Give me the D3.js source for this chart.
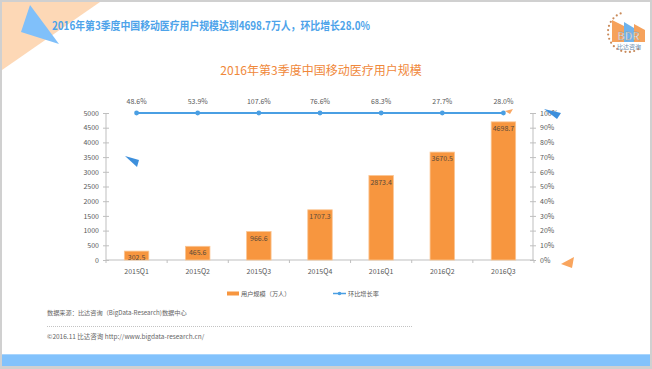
<!DOCTYPE html>
<html><head><meta charset="utf-8">
<script src="https://cdn.jsdelivr.net/npm/d3@7/dist/d3.min.js"></script>
<style>
html,body{margin:0;padding:0;background:#fff;}
svg{display:block;}
text{font-family:"Noto Sans CJK SC","Noto Sans",sans-serif;}
</style></head>
<body>
<svg id="c" width="652" height="369"></svg>
<script>
const categories = ["2015Q1","2015Q2","2015Q3","2015Q4","2016Q1","2016Q2","2016Q3"];
const users = [302.5, 465.6, 966.6, 1707.3, 2873.4, 3670.5, 4698.7];
// growth rate values as entered in the source sheet (percent units), axis capped at 100%
const growth = [48.6, 53.9, 107.6, 76.6, 68.3, 27.7, 28.0];
const leftTicks = [0,500,1000,1500,2000,2500,3000,3500,4000,4500,5000];
const rightTicks = [0,0.1,0.2,0.3,0.4,0.5,0.6,0.7,0.8,0.9,1.0];
const headline = "2016年第3季度中国移动医疗用户规模达到4698.7万人，环比增长28.0%";
const chartTitle = "2016年第3季度中国移动医疗用户规模";
const legendNames = ["用户规模（万人）","环比增长率"];
const sourceText = "数据来源：比达咨询（BigData-Research)数据中心";
const copyText = "©2016.11  比达咨询   http://www.bigdata-research.cn/";

const svg = d3.select("#c");
const W = 652, H = 369;

// frame
svg.append("rect").attr("x",0).attr("y",0).attr("width",W).attr("height",H).attr("fill","#d0d0d0");
svg.append("rect").attr("x",2).attr("y",2).attr("width",648).attr("height",364).attr("fill","#fff");
// top-left decoration
svg.append("path").attr("d","M2,2 L100,2 L2,70 Z").attr("fill","#fdd8b6");
svg.append("path").attr("d","M30,5 L21,32 L59,44 Z").attr("fill","#80c0fa");
// bottom band
svg.append("rect").attr("x",2).attr("y",354).attr("width",648).attr("height",12).attr("fill","#82c2fc");
svg.append("rect").attr("x",2).attr("y",354).attr("width",648).attr("height",1).attr("fill","#a9d5fd");

// headline
svg.append("text").attr("x",52).attr("y",30).attr("font-size",11.5).attr("font-weight","bold")
  .attr("fill","#4da3ea").attr("textLength",318).attr("lengthAdjust","spacingAndGlyphs").text(headline);

// logo
const logo = svg.append("g");
const cx=628, cy=32, rr=20;
for(let i=0;i<16;i++){
  const a = Math.PI*0.62 + i*(Math.PI*1.05/15);
  logo.append("circle").attr("cx",cx+rr*Math.cos(a)).attr("cy",cy-rr*Math.sin(a)+ (0)).attr("r",1.1).attr("fill","#c98a5a");
}
logo.append("path").attr("d","M612,42 L612,20 L624,26 L624,42 Z").attr("fill","#f6a25c");
logo.append("path").attr("d","M624,42 L624,22 L634,28 L634,42 Z").attr("fill","#6fb3ec");
logo.append("path").attr("d","M634,42 L634,24 L645,30 L645,42 Z").attr("fill","#f6a25c");
logo.append("text").attr("x",628.5).attr("y",40).attr("text-anchor","middle").attr("font-size",11)
  .attr("font-family","DejaVu Sans, sans-serif").attr("fill","#fff").attr("stroke","#8a8a8a").attr("stroke-width",0.3).text("BDR");
logo.append("text").attr("x",629).attr("y",49).attr("text-anchor","middle").attr("font-size",6)
  .attr("fill","#6d8fb0").text("比达咨询");

// chart title
svg.append("text").attr("x",321).attr("y",75).attr("text-anchor","middle").attr("font-size",12)
  .attr("fill","#f0883a").text(chartTitle);

// scales
const x = d3.scaleBand().domain(categories).range([106,534]).paddingInner(0.6).paddingOuter(0.3);
const y = d3.scaleLinear().domain([0,5000]).range([260,113]);
const yr = d3.scaleLinear().domain([0,1]).range([260,113]).clamp(true);
const step = x.step(), bw = x.bandwidth();

const axisColor = "#bfbfbf", textColor = "#595959";

// left axis
const gl = svg.append("g").attr("transform","translate(106,0)")
  .call(d3.axisLeft(y).tickValues(leftTicks).tickSize(3).tickPadding(4).tickFormat(d3.format("d")));
gl.select(".domain").attr("stroke",axisColor).attr("d","M0,260V113");
gl.selectAll(".tick line").attr("stroke",axisColor).attr("x1",3);
gl.selectAll("text").attr("font-size",7).attr("fill",textColor).attr("font-family","Noto Sans, sans-serif");

// right axis
const gr = svg.append("g").attr("transform","translate(533,0)")
  .call(d3.axisRight(yr).tickValues(rightTicks).tickSize(3).tickPadding(4).tickFormat(d3.format(".0%")));
gr.select(".domain").attr("stroke",axisColor).attr("d","M0,260V113");
gr.selectAll(".tick line").attr("stroke",axisColor).attr("x1",-3);
gr.selectAll("text").attr("font-size",7).attr("fill",textColor).attr("font-family","Noto Sans, sans-serif");

// x axis
const gx = svg.append("g").attr("transform","translate(0,260)");
gx.append("line").attr("x1",106).attr("x2",534).attr("stroke",axisColor);
const bounds = categories.map(c => x(c)+bw/2-step/2).concat([x(categories[6])+bw/2+step/2]);
gx.selectAll("line.tk").data(bounds).enter().append("line").attr("class","tk")
  .attr("x1",d=>d).attr("x2",d=>d).attr("y1",0).attr("y2",3).attr("stroke",axisColor);
gx.selectAll("text").data(categories).enter().append("text")
  .attr("x",d=>x(d)+bw/2).attr("y",14).attr("text-anchor","middle").attr("font-size",7)
  .attr("font-family","Noto Sans, sans-serif").attr("fill",textColor).text(d=>d);

// bars
svg.selectAll("rect.bar").data(users).enter().append("rect").attr("class","bar")
  .attr("x",(d,i)=>x(categories[i])).attr("width",bw)
  .attr("y",d=>y(d)).attr("height",d=>260-y(d))
  .attr("fill","#f7963f").attr("stroke","#fbc592").attr("stroke-width",0.8);
svg.selectAll("text.bl").data(users).enter().append("text").attr("class","bl")
  .attr("x",(d,i)=>x(categories[i])+bw/2).attr("y",d=>y(d)+9).attr("text-anchor","middle")
  .attr("font-size",7).attr("font-family","Noto Sans, sans-serif").attr("fill","#5a4a3a").text(d=>d.toFixed(1));

// line
const lineColor = "#4a9fe3";
const line = d3.line().x((d,i)=>x(categories[i])+bw/2).y(d=>yr(d));
svg.append("path").datum(growth).attr("d",line).attr("fill","none").attr("stroke",lineColor).attr("stroke-width",1.8);
svg.selectAll("circle.pt").data(growth).enter().append("circle").attr("class","pt")
  .attr("cx",(d,i)=>x(categories[i])+bw/2).attr("cy",d=>yr(d)).attr("r",2.4).attr("fill",lineColor);
svg.selectAll("text.gl").data(growth).enter().append("text").attr("class","gl")
  .attr("x",(d,i)=>x(categories[i])+bw/2).attr("y",d=>yr(d)-9).attr("text-anchor","middle")
  .attr("font-size",7).attr("font-family","Noto Sans, sans-serif").attr("fill",textColor).text(d=>d.toFixed(1)+"%");

// decorative slide shapes
svg.append("path").attr("d","M125,156 L139,160 L137,167 Z").attr("fill","#3d8fdc");
svg.append("path").attr("d","M544,109 L561,113 L557,119 Z").attr("fill","#3d8fdc");
svg.append("path").attr("d","M505,111 L513,109 L510,114 Z").attr("fill","#f9a865");
svg.append("path").attr("d","M561,264 L574,257 L572,268 Z").attr("fill","#f9a55e");

// legend
const lg = svg.append("g");
lg.append("rect").attr("x",227).attr("y",291.5).attr("width",12).attr("height",4).attr("fill","#f7963f");
lg.append("text").attr("x",241).attr("y",296).attr("font-size",6.2).attr("fill",textColor).text(legendNames[0]);
lg.append("line").attr("x1",333).attr("x2",346).attr("y1",293.5).attr("y2",293.5).attr("stroke",lineColor).attr("stroke-width",1.5);
lg.append("circle").attr("cx",339.5).attr("cy",293.5).attr("r",1.8).attr("fill",lineColor);
lg.append("text").attr("x",348).attr("y",296).attr("font-size",6.2).attr("fill",textColor).text(legendNames[1]);

// footer
svg.append("text").attr("x",47).attr("y",315).attr("font-size",6.2).attr("fill","#666").text(sourceText);
svg.append("line").attr("x1",47).attr("x2",413).attr("y1",326.5).attr("y2",326.5)
  .attr("stroke","#9a9a9a").attr("stroke-width",0.6).attr("stroke-dasharray","1,1");
svg.append("text").attr("x",47).attr("y",339).attr("font-size",6.5).attr("fill","#666").text(copyText);
</script>
</body></html>
